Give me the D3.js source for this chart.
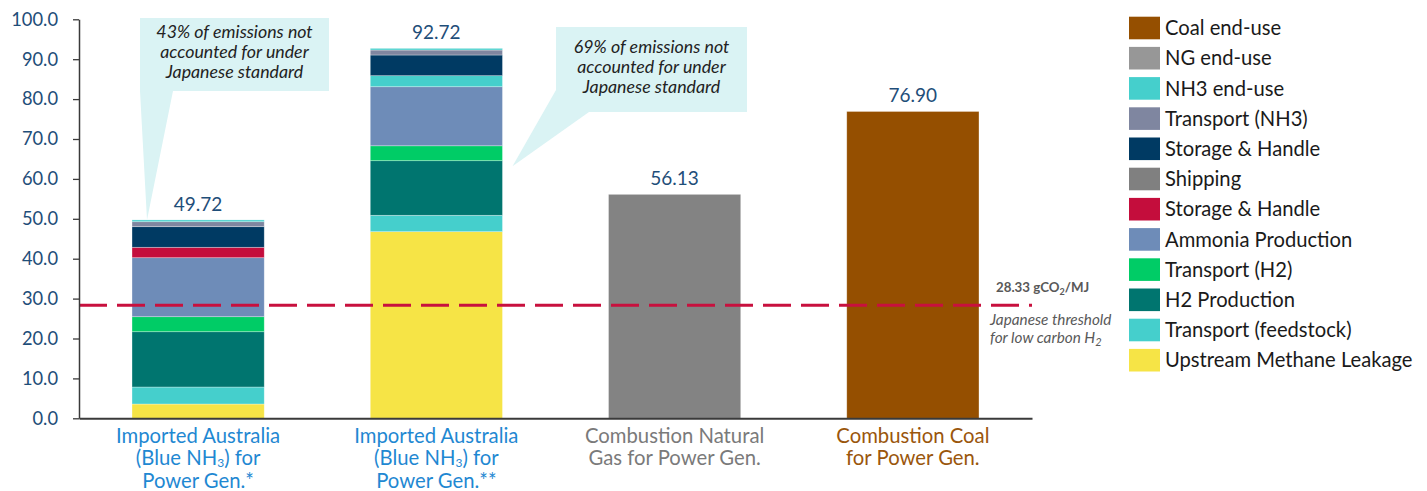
<!DOCTYPE html>
<html><head><meta charset="utf-8">
<script src="https://cdn.jsdelivr.net/npm/d3@7"></script>
<style>
body{margin:0;background:#fff}
svg{display:block;font-family:Lato,'Noto Sans',sans-serif}
</style>
</head><body>
<svg id="chart" width="1427" height="491"></svg>
<script>
// ---------- DATA ----------
const categories = ["Imported Australia (Blue NH3) for Power Gen.*",
                    "Imported Australia (Blue NH3) for Power Gen.**",
                    "Combustion Natural Gas for Power Gen.",
                    "Combustion Coal for Power Gen."];
const categoryLabelLines = [
  ["Imported Australia", "(Blue NH_{3}) for", "Power Gen.*"],
  ["Imported Australia", "(Blue NH_{3}) for", "Power Gen.**"],
  ["Combustion Natural", "Gas for Power Gen."],
  ["Combustion Coal", "for Power Gen."]
];
const categoryColors = ["#1F88D2", "#1F88D2", "#7A7A7A", "#9A560C"];

// series, stacked bottom -> top
const seriesNames = ["Upstream Methane Leakage", "Transport (feedstock)", "H2 Production",
  "Transport (H2)", "Ammonia Production", "Storage & Handle", "Shipping",
  "Storage & Handle", "Transport (NH3)", "NH3 end-use", "NG end-use", "Coal end-use"];
const seriesColors = ["#F6E446", "#45CFCC", "#00756F", "#00CC66", "#6E8CB8", "#C40D3C",
  "#808080", "#003A63", "#7F86A0", "#45CFCC", "#979797", "#954F00"];

const upstreamMethaneLeakage = [3.58, 46.77, 0, 0];
const transportFeedstock     = [4.26, 4.11, 0, 0];
const h2Production           = [13.86, 13.68, 0, 0];
const transportH2            = [3.76, 3.74, 0, 0];
const ammoniaProduction      = [14.79, 14.80, 0, 0];
const storageHandleRed       = [2.61, 2.77, 0, 0];
const shipping               = [0, 0, 0, 0];
const storageHandleNavy      = [5.16, 5.18, 0, 0];
const transportNH3           = [1.25, 1.25, 0, 0];
const nh3EndUse              = [0.45, 0.42, 0, 0];
const ngEndUse               = [0, 0, 56.13, 0];
const coalEndUse             = [0, 0, 0, 76.90];
const seriesValues = [upstreamMethaneLeakage, transportFeedstock, h2Production, transportH2,
  ammoniaProduction, storageHandleRed, shipping, storageHandleNavy, transportNH3,
  nh3EndUse, ngEndUse, coalEndUse];

// colour exceptions for individual segments as drawn in the original
const pointColorOverrides = [
  {category: 1, series: 5, color: "#45CFCC"},
  {category: 2, series: 10, color: "#838383"}
];

const yTicks = [0, 10, 20, 30, 40, 50, 60, 70, 80, 90, 100];
const thresholdValue = 28.33;
const callouts = [
  {lines: ["43% of emissions not", "accounted for under", "Japanese standard"]},
  {lines: ["69% of emissions not", "accounted for under", "Japanese standard"]}
];

// ---------- CHART ----------
const svg = d3.select("#chart");
const plotLeft = 79, plotRight = 1032, plotTop = 19.3, plotBottom = 418.3;

const x = d3.scaleBand().domain(categories).range([plotLeft, plotRight])
  .paddingInner(0.445).paddingOuter(0.2225);
const y = d3.scaleLinear().domain([0, 100]).range([plotBottom, plotTop]);

// stacked data
const table = categories.map((c, i) => {
  const row = {category: c};
  seriesValues.forEach((s, j) => row["s" + j] = s[i]);
  return row;
});
const keys = seriesValues.map((_, j) => "s" + j);
const stacked = d3.stack().keys(keys)(table);
const color = d3.scaleOrdinal().domain(keys).range(seriesColors);
function segColor(catIdx, serIdx) {
  const o = pointColorOverrides.find(p => p.category === catIdx && p.series === serIdx);
  return o ? o.color : color("s" + serIdx);
}

// callout shapes (behind bars)
const bw = x.bandwidth();
const totals = table.map(r => d3.sum(keys, k => r[k]));
const c1 = {x0: 140, x1: 329, y0: 18, y1: 91,
  tip: [x(categories[0]) + 15, y(totals[0])], b0: 140, b1: 173, tx: 234.5, ty: [38, 58, 78]};
const c2 = {x0: 556, x1: 747, y0: 27, y1: 112,
  tip: [x(categories[1]) + bw + 10, y(63.2)], ty: [52.5, 72.5, 92.5], tx: 651.5};
const calloutG = svg.append("g");
calloutG.append("path").attr("fill", "#DAF3F4")
  .attr("d", `M${c1.x0},${c1.y0}H${c1.x1}V${c1.y1}H${c1.b1}L${c1.tip[0]},${c1.tip[1]}L${c1.b0},${c1.y1}Z`);
calloutG.append("path").attr("fill", "#DAF3F4")
  .attr("d", `M${c2.x0},${c2.y0}H${c2.x1}V${c2.y1}H589L${c2.tip[0]},${c2.tip[1]}L${c2.x0},90Z`);
[c1, c2].forEach((c, i) => {
  const t = calloutG.append("text").attr("text-anchor", "middle").attr("font-style", "italic")
    .attr("font-size", 17.8).attr("fill", "#222");
  callouts[i].lines.forEach((l, k) => {
    t.append("tspan").attr("x", c.tx).attr("y", c.ty[k]).text(l);
  });
});

// bars
svg.append("g").selectAll("g").data(stacked).join("g")
  .each(function(layer, j) {
    d3.select(this).selectAll("rect").data(layer).join("rect")
      .attr("x", d => x(d.data.category))
      .attr("width", bw)
      .attr("y", d => y(d[1]))
      .attr("height", d => Math.max(0, y(d[0]) - y(d[1])))
      .attr("fill", (d, i) => segColor(i, j))
      .attr("stroke", "rgba(255,255,255,0.45)")
      .attr("stroke-width", (d) => (d[1] - d[0]) > 0 ? 0.7 : 0);
  });

// totals
svg.append("g").selectAll("text").data(table).join("text")
  .attr("x", d => x(d.category) + bw / 2)
  .attr("y", (d, i) => y(totals[i]) - 9)
  .attr("text-anchor", "middle").attr("font-size", 19).attr("fill", "#1F4E79")
  .text((d, i) => d3.format(".2f")(totals[i]));

// threshold line
svg.append("line")
  .attr("x1", plotLeft).attr("x2", plotRight)
  .attr("y1", y(thresholdValue)).attr("y2", y(thresholdValue))
  .attr("stroke", "#C8103E").attr("stroke-width", 3).attr("stroke-dasharray", "28,10");

const th = svg.append("g").attr("fill", "#595959");
const tl = th.append("text").attr("x", 996).attr("y", y(thresholdValue) - 13)
  .attr("font-size", 13.3).attr("font-weight", "bold");
tl.append("tspan").text(d3.format(".2f")(thresholdValue) + " gCO");
tl.append("tspan").attr("font-size", 9).attr("dy", 3).text("2");
tl.append("tspan").attr("dy", -3).text("/MJ");
const tl2 = th.append("text").attr("font-size", 15.3).attr("font-style", "italic");
tl2.append("tspan").attr("x", 990).attr("y", y(thresholdValue) + 20).text("Japanese threshold");
tl2.append("tspan").attr("x", 990).attr("y", y(thresholdValue) + 38).text("for low carbon H");
tl2.append("tspan").attr("font-size", 11).attr("dy", 3).text("2");

// axes
const yAxis = svg.append("g").attr("transform", `translate(${plotLeft},0)`)
  .call(d3.axisLeft(y).tickValues(yTicks).tickFormat(d3.format(".1f")).tickSize(6).tickSizeOuter(0).tickPadding(15));
yAxis.select(".domain").attr("stroke", "#3a3a3a").attr("stroke-width", 1.5);
yAxis.selectAll(".tick line").attr("stroke", "#3a3a3a").attr("stroke-width", 1.3);
yAxis.selectAll(".tick text").attr("font-size", 18.3).attr("fill", "#1F4E79").attr("font-family", "Lato");

const xAxis = svg.append("g").attr("transform", `translate(0,${plotBottom})`)
  .call(d3.axisBottom(x).tickSize(0).tickSizeOuter(0).tickFormat(""));
xAxis.select(".domain").attr("stroke", "#3a3a3a").attr("stroke-width", 2);

// category labels (one text element per category, lines as tspans)
const labelLineY = [443, 464.5, 488];
categories.forEach((c, i) => {
  const cx = x(c) + bw / 2;
  const t = svg.append("text").attr("text-anchor", "middle")
    .attr("font-size", 20.3).attr("fill", categoryColors[i]);
  categoryLabelLines[i].forEach((line, k) => {
    const parts = line.split(/(_\{[^}]*\})/).filter(s => s.length);
    let shifted = false;
    parts.forEach((p, pi) => {
      const m = p.match(/^_\{(.*)\}$/);
      const ts = t.append("tspan");
      if (pi === 0) ts.attr("x", cx).attr("y", labelLineY[k]);
      if (m) { ts.attr("font-size", 12).attr("dy", 2).text(m[1]); shifted = true; }
      else { ts.text(p); if (shifted && pi > 0) { ts.attr("dy", -2); shifted = false; } }
    });
  });
});

// legend (top -> bottom is reverse of stacking)
const legendOrder = d3.range(seriesNames.length).reverse();
const lg = svg.append("g");
legendOrder.forEach((j, r) => {
  const yy = 16.7 + r * 30.2;
  lg.append("rect").attr("x", 1129).attr("y", yy).attr("width", 31).attr("height", 22.6)
    .attr("fill", seriesColors[j]);
  lg.append("text").attr("x", 1165).attr("y", yy + 11.3).attr("dy", "0.36em")
    .attr("font-size", 20.2).attr("fill", "#1a1a1a").text(seriesNames[j]);
});
</script>
</body></html>
